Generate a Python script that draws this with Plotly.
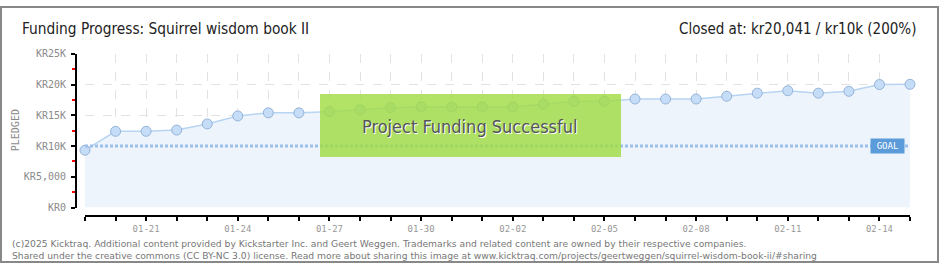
import plotly.graph_objects as go

W, H = 940, 270

dates = ["2025-01-19", "2025-01-20", "2025-01-21", "2025-01-22", "2025-01-23", "2025-01-24",
         "2025-01-25", "2025-01-26", "2025-01-27", "2025-01-28", "2025-01-29", "2025-01-30",
         "2025-01-31", "2025-02-01", "2025-02-02", "2025-02-03", "2025-02-04", "2025-02-05",
         "2025-02-06", "2025-02-07", "2025-02-08", "2025-02-09", "2025-02-10", "2025-02-11",
         "2025-02-12", "2025-02-13", "2025-02-14", "2025-02-15"]
pledged = [9330, 12400, 12400, 12600, 13600, 14900, 15400, 15400, 15600, 15900, 16250, 16350,
           16350, 16350, 16350, 16800, 17300, 17300, 17650, 17650, 17650, 18100, 18600, 19000,
           18600, 18900, 20000, 20041]
x_tick_labels = ["", "", "01-21", "", "", "01-24", "", "", "01-27", "", "", "01-30", "", "",
                 "02-02", "", "", "02-05", "", "", "02-08", "", "", "02-11", "", "", "02-14", ""]
y_tick_vals = [0, 5000, 10000, 15000, 20000, 25000]
y_tick_labels = ["KR0", "KR5,000", "KR10K", "KR15K", "KR20K", "KR25K"]
y_minor_vals = [2500, 7500, 12500, 17500, 22500]
goal = 10000

title_left = "Funding Progress: Squirrel wisdom book II"
title_right = "Closed at: kr20,041 / kr10k (200%)"
footer1 = ("(c)2025 Kicktraq. Additional content provided by Kickstarter Inc. and Geert Weggen. "
           "Trademarks and related content are owned by their respective companies.")
footer2 = ("Shared under the creative commons (CC BY-NC 3.0) license. Read more about sharing this "
           "image at www.kicktraq.com/projects/geertweggen/squirrel-wisdom-book-ii/#sharing")


def px(x):
    return x / W


def py(y):
    return (H - y) / H


fig = go.Figure()
fig.add_trace(go.Scatter(
    x=dates, y=pledged, mode="lines+markers", fill="tozeroy",
    fillcolor="#edf4fc", line=dict(color="#b7d4f2", width=1.5),
    marker=dict(size=10, color="#c6ddf7", line=dict(color="#94b3d8", width=1)),
    cliponaxis=False, hoverinfo="skip", showlegend=False))

fig.update_layout(
    width=W, height=H, margin=dict(l=0, r=0, t=0, b=0),
    paper_bgcolor="white", plot_bgcolor="white", showlegend=False,
    xaxis=dict(
        type="date", range=[dates[0], dates[-1]], domain=[px(85), px(910)],
        anchor="free", position=py(219.5),
        tickvals=dates, ticktext=x_tick_labels,
        showgrid=True, gridcolor="#e2e2e2", griddash="dash", gridwidth=1,
        showline=True, linecolor="black", linewidth=2,
        ticks="outside", ticklen=4, tickwidth=1.5, tickcolor="black",
        tickfont=dict(family="DejaVu Sans Mono", size=9, color="#999999"),
        zeroline=False, fixedrange=True),
    yaxis=dict(
        range=[0, 25000], domain=[py(211), py(50)],
        anchor="free", position=px(76),
        tickvals=y_tick_vals, ticktext=y_tick_labels,
        showgrid=True, gridcolor="#e2e2e2", griddash="dash", gridwidth=1,
        showline=True, linecolor="black", linewidth=2,
        ticks="outside", ticklen=4, tickwidth=1.5, tickcolor="black",
        ticklabelstandoff=3,
        minor=dict(tickvals=y_minor_vals, ticks="outside", ticklen=3, tickwidth=1.5,
                   tickcolor="red", showgrid=False),
        tickfont=dict(family="DejaVu Sans Mono", size=10, color="#8a8a8a"),
        zeroline=False, fixedrange=True),
)

shapes = [
    dict(type="line", xref="x", yref="y", x0=dates[0], x1=dates[-1], y0=goal, y1=goal,
         line=dict(color="#9cc0ea", width=3, dash="3px,2px"), layer="above"),
    dict(type="rect", xref="paper", yref="paper", x0=px(320), x1=px(621),
         y0=py(158), y1=py(92), fillcolor="#a1dc44", opacity=0.82,
         line=dict(width=0), layer="above"),
    dict(type="rect", xref="paper", yref="paper", x0=px(1), x1=px(938), y0=py(268), y1=py(1),
         line=dict(color="#888888", width=2), layer="above"),
]
fig.update_layout(shapes=shapes)

annotations = [
    dict(text=title_left, xref="paper", yref="paper", x=px(20), y=py(24),
         xanchor="left", yanchor="middle", showarrow=False,
         font=dict(family="DejaVu Sans Condensed", size=15.3, color="#222222")),
    dict(text=title_right, xref="paper", yref="paper", x=px(918), y=py(24),
         xanchor="right", yanchor="middle", showarrow=False,
         font=dict(family="DejaVu Sans Condensed", size=15, color="#222222")),
    dict(text="PLEDGED", xref="paper", yref="paper", x=px(15), y=py(130),
         xanchor="center", yanchor="middle", showarrow=False, textangle=-90,
         font=dict(family="DejaVu Sans Mono", size=10, color="#8a8a8a")),
    dict(text="GOAL", xref="paper", yref="y", x=px(887.5), y=goal,
         xanchor="center", yanchor="middle", showarrow=False, width=31, height=12,
         bgcolor="#5b9bd9", borderpad=1,
         font=dict(family="DejaVu Sans Mono", size=9, color="white")),
    dict(text="Project Funding Successful", xref="paper", yref="paper", x=px(469), y=py(126),
         xanchor="center", yanchor="middle", showarrow=False,
         font=dict(family="DejaVu Sans Condensed", size=18, color="#555555",
                   shadow="1px 1px 0px white")),
    dict(text=footer1, xref="paper", yref="paper", x=px(10), y=py(248.5),
         xanchor="left", yanchor="middle", showarrow=False,
         font=dict(family="DejaVu Sans", size=9.2, color="#777777")),
    dict(text=footer2, xref="paper", yref="paper", x=px(10), y=py(261),
         xanchor="left", yanchor="middle", showarrow=False,
         font=dict(family="DejaVu Sans", size=9.2, color="#777777")),
]
fig.update_layout(annotations=annotations)

fig.write_html("out.html")
